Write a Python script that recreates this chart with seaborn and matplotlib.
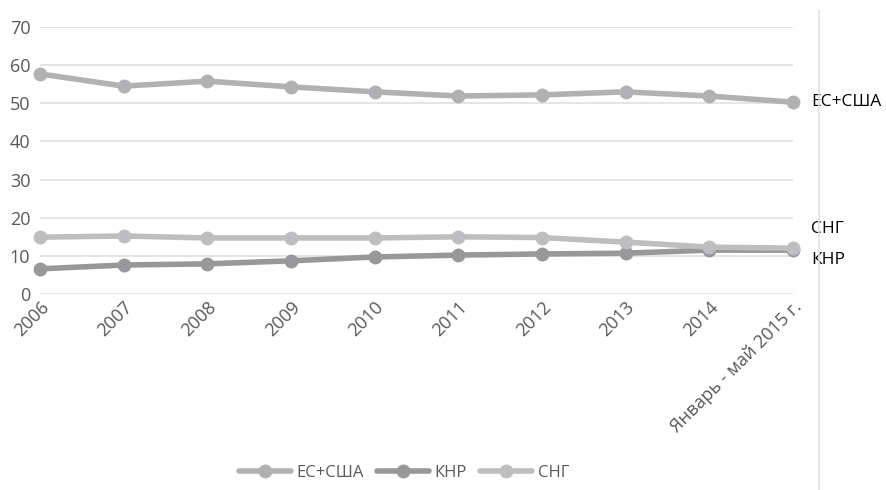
import matplotlib.pyplot as plt
from matplotlib.lines import Line2D
import pandas as pd
import seaborn as sns

periods = ["2006", "2007", "2008", "2009", "2010", "2011", "2012", "2013", "2014",
           "Январь - май 2015 г."]
eu_usa = [57.7, 54.5, 55.8, 54.3, 53.0, 51.9, 52.2, 53.0, 51.9, 50.3]
china = [6.6, 7.6, 7.9, 8.7, 9.7, 10.2, 10.5, 10.7, 11.5, 11.5]
cis = [14.9, 15.2, 14.7, 14.7, 14.7, 15.0, 14.8, 13.6, 12.3, 12.0]
series_names = ["ЕС+США", "КНР", "СНГ"]
colors = {"ЕС+США": "#b1b1b4", "КНР": "#98989b", "СНГ": "#bebec1"}

df = pd.DataFrame({
    "pos": list(range(len(periods))) * 3,
    "value": eu_usa + china + cis,
    "series": sum([[s] * len(periods) for s in series_names], []),
})

sns.set_style("white")
plt.rcParams["font.family"] = ["Open Sans", "DejaVu Sans"]

fig = plt.figure(figsize=(8.87, 4.9), dpi=100)
ax = fig.add_axes([40 / 887, 1 - 294 / 490, (793 - 40) / 887, (294 - 27) / 490])

sns.lineplot(data=df, x="pos", y="value", hue="series", hue_order=series_names,
             palette=colors, marker="o", markersize=10, markeredgewidth=0,
             linewidth=4, legend=False, ax=ax, clip_on=False)

ax.set_xlim(0, len(periods) - 1)
ax.set_ylim(0, 70)
ax.set_yticks(range(0, 71, 10))
ax.yaxis.grid(True, color="#e0e0e0", linewidth=1.2)
ax.set_axisbelow(True)
for s in ax.spines.values():
    s.set_visible(False)
ax.set_xticks(range(len(periods)))
ax.set_xticklabels(periods, rotation=45, ha="right", rotation_mode="anchor")
ax.tick_params(axis="both", length=0, labelsize=13, labelcolor="#595959")
ax.tick_params(axis="y", pad=7)
ax.tick_params(axis="x", pad=3)
ax.set_xlabel("")
ax.set_ylabel("")

# end labels
last = len(periods) - 1
ax.annotate("ЕС+США", (last, eu_usa[-1]), xytext=(13, 0), textcoords="offset points",
            va="center", fontsize=12.5, color="black", annotation_clip=False)
ax.annotate("СНГ", (last, cis[-1]), xytext=(13, 14), textcoords="offset points",
            va="center", fontsize=12.5, color="black", annotation_clip=False)
ax.annotate("КНР", (last, china[-1]), xytext=(13, -7), textcoords="offset points",
            va="center", fontsize=12.5, color="black", annotation_clip=False)

fig.add_artist(Line2D([819 / 887, 819 / 887], [0, 1 - 10 / 490], color="#e0e0e0",
                      linewidth=1.2, transform=fig.transFigure))

handles = [Line2D([0], [0], color=colors[s], linewidth=4, marker="o", markersize=10,
                  markeredgewidth=0) for s in series_names]
fig.legend(handles, series_names, loc="center", bbox_to_anchor=(404 / 887, 1 - 473 / 490),
           ncol=3, frameon=False, fontsize=12, handlelength=3.1, columnspacing=0.8,
           handletextpad=0.35, labelcolor="#595959")

fig.savefig("out.png", dpi=100)
